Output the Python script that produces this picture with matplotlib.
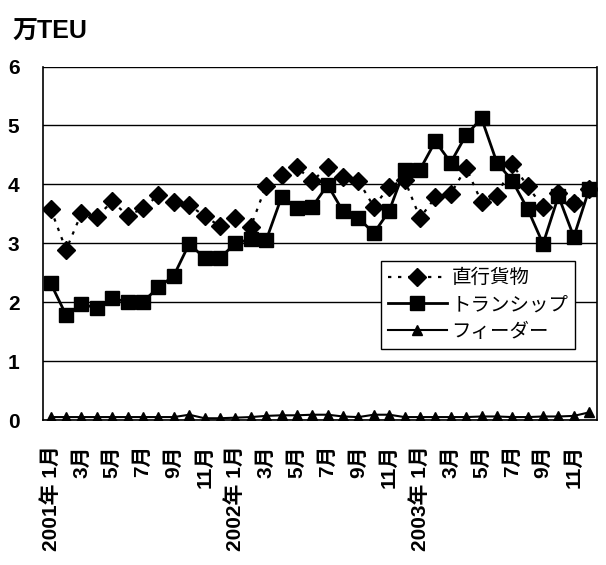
import matplotlib
matplotlib.use('Agg')
from matplotlib import pyplot as plt
import numpy as np

plt.rcParams['font.family'] = ['Liberation Sans', 'Noto Sans CJK JP', 'DejaVu Sans']

# monthly data, 2001/1 - 2003/12 (万TEU)
direct = [3.58, 2.89, 3.51, 3.45, 3.71, 3.47, 3.59, 3.82, 3.70, 3.65, 3.46, 3.29,
          3.43, 3.28, 3.98, 4.16, 4.29, 4.06, 4.29, 4.12, 4.06, 3.62, 3.96, 4.08,
          3.43, 3.78, 3.84, 4.28, 3.70, 3.80, 4.34, 3.97, 3.61, 3.86, 3.69, 3.92]
tranship = [2.32, 1.78, 1.97, 1.90, 2.07, 2.00, 2.01, 2.25, 2.45, 2.99, 2.75, 2.75,
            3.00, 3.07, 3.05, 3.78, 3.59, 3.62, 3.99, 3.54, 3.43, 3.17, 3.55, 4.25,
            4.25, 4.73, 4.37, 4.84, 5.12, 4.37, 4.06, 3.58, 2.99, 3.80, 3.11, 3.92]
feeder = [0.05, 0.05, 0.05, 0.05, 0.05, 0.05, 0.05, 0.05, 0.05, 0.09, 0.03, 0.03,
          0.04, 0.05, 0.07, 0.08, 0.08, 0.09, 0.09, 0.06, 0.05, 0.09, 0.09, 0.05,
          0.05, 0.05, 0.05, 0.05, 0.06, 0.06, 0.05, 0.05, 0.06, 0.06, 0.07, 0.13]
tick_labels = ['2001年 1月', '3月', '5月', '7月', '9月', '11月',
               '2002年 1月', '3月', '5月', '7月', '9月', '11月',
               '2003年 1月', '3月', '5月', '7月', '9月', '11月']
series_names = ['直行貨物', 'トランシップ', 'フィーダー']

x = np.arange(len(direct))

fig = plt.figure(figsize=(6.06, 5.65), dpi=100)
ax = fig.add_axes([0.071, 0.2566, 0.914, 0.6257])

ax.plot(x, direct, color='black', linestyle=(0, (1.5, 3)), linewidth=1.6,
        marker='D', markersize=9.5, label=series_names[0])
ax.plot(x, tranship, color='black', linestyle='-', linewidth=2,
        marker='s', markersize=10, label=series_names[1])
ax.plot(x, feeder, color='black', linestyle='-', linewidth=1.5,
        marker='^', markersize=7, label=series_names[2])

ax.set_xlim(-0.5, len(x) - 0.5)
ax.set_ylim(0, 6)
ax.set_yticks(range(0, 7))
ax.yaxis.grid(True, color='black', linewidth=1)
ax.set_axisbelow(True)
ax.tick_params(axis='y', length=0, pad=17, labelsize=15)
for t in ax.get_yticklabels():
    t.set_fontweight('bold')

ax.set_xticks(x[::2])
ax.set_xticklabels(tick_labels, rotation=90, va='top', ha='center',
                   fontsize=15, fontweight='bold')
ax.tick_params(axis='x', length=0, pad=18)

for s in ['left', 'bottom', 'right']:
    ax.spines[s].set_color('black')
    ax.spines[s].set_linewidth(1.2)
ax.spines['top'].set_visible(False)

fig.text(0.021, 0.965, '万TEU', fontsize=18, fontweight='bold', va='top', ha='left')

leg = ax.legend(loc='upper left', bbox_to_anchor=(0.611, 0.451), borderaxespad=0,
                frameon=True, fancybox=False, edgecolor='black', framealpha=1,
                prop={'family': ['Noto Sans CJK JP'], 'size': 14},
                handlelength=3.0, handletextpad=0.25, labelspacing=0.3,
                borderpad=0.35)
leg.get_frame().set_linewidth(1)

fig.savefig('out.png', dpi=100)
